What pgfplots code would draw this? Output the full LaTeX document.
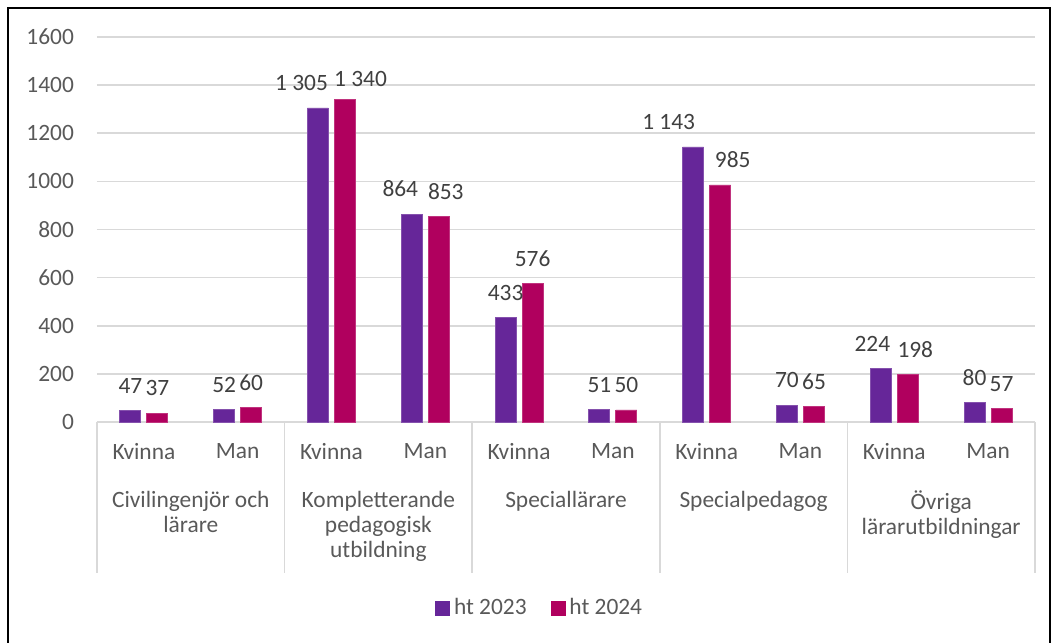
\documentclass[border=0pt]{standalone}
\usepackage{fontspec}
\setmainfont{Carlito}
\usepackage{pgfplots}
\pgfplotsset{compat=1.18}
\definecolor{ht23}{RGB}{102,38,153}
\definecolor{ht24}{RGB}{176,0,94}
\definecolor{txt}{RGB}{89,89,89}
\definecolor{labc}{RGB}{64,64,64}
\definecolor{gridc}{RGB}{217,217,217}
\newcommand\cf{\fontsize{11.7}{12.6}\selectfont}

\begin{document}
\begin{tikzpicture}
\useasboundingbox (0pt,0pt) rectangle (528pt,321.5pt);
\draw[black, line width=0.8pt] (4pt,-2pt) -- (4pt,317.5pt) -- (525pt,317.5pt) -- (525pt,-2pt);
\begin{axis}[at={(48.5pt,110.5pt)}, anchor=south west, scale only axis,
	width=469pt, height=192.5pt,
	ybar=3pt, bar width=10.5pt,
	xmin=-0.5, xmax=9.5, ymin=0, ymax=1600,
	ytick={0,200,...,1600}, xtick={0,...,9},
	xticklabels={Kvinna,Man,Kvinna,Man,Kvinna,Man,Kvinna,Man,Kvinna,Man},
	/pgf/number format/.cd, 1000 sep={}, assume math mode=true, /pgfplots/.cd,
	ymajorgrids, grid style={gridc, line width=0.8pt},
	axis line style={draw=none}, tick style={draw=none},
	tick label style={font=\cf, text=txt},
	yticklabel style={xshift=-8pt},
	xticklabel style={yshift=-3pt},
	clip=false,
	visualization depends on={\thisrow{dx} \as \dx},
	visualization depends on={\thisrow{dy} \as \dy},
	nodes near coords={\pgfmathprintnumber[1000 sep={\ }, assume math mode=true]{\pgfplotspointmeta}},
	every node near coord/.append style={font=\cf, text=labc, anchor=south, yshift=5pt,
		xshift=\dx pt, yshift=\dy pt},
	legend columns=2,
	legend style={draw=none, fill=none, at={(0.473,-0.483)}, anchor=center, font=\cf, text=txt,
		/tikz/every even column/.append style={column sep=10pt}},
]
% ht 2023
\addplot[fill=ht23, draw=ht23!80!white, line width=0.4pt,
	legend image code/.code={\fill[ht23] (0pt,-3.5pt) rectangle (7pt,3.5pt);}]
	table[x=x, y=y] {
	x y    dx     dy
	0 47   0      0
	1 52   0      0
	2 1305 -8.25  0
	3 864  -5.75  0
	4 433  0      0
	5 51   0      0
	6 1143 -12.25 0
	7 70   0      0
	8 224  -4.2   0
	9 80   0      0
	};
% ht 2024
\addplot[fill=ht24, draw=ht24!80!white, line width=0.4pt,
	legend image code/.code={\fill[ht24] (0pt,-3.5pt) rectangle (7pt,3.5pt);}]
	table[x=x, y=y] {
	x y    dx    dy
	0 37   0     0
	1 60   0     0
	2 1340 7.75  -2.25
	3 853  3.5   0
	4 576  0     0
	5 50   0     0
	6 985  6.25  0
	7 65   0     0
	8 198  3.75  0
	9 57   0     0
	};
\legend{ht 2023, ht 2024}
% gruppavgransare
\draw[gridc, line width=0.8pt] (axis cs:-0.5,0) -- ++(0pt,-75.5pt);
\draw[gridc, line width=0.8pt] (axis cs:1.5,0) -- ++(0pt,-75.5pt);
\draw[gridc, line width=0.8pt] (axis cs:3.5,0) -- ++(0pt,-75.5pt);
\draw[gridc, line width=0.8pt] (axis cs:5.5,0) -- ++(0pt,-75.5pt);
\draw[gridc, line width=0.8pt] (axis cs:7.5,0) -- ++(0pt,-75.5pt);
\draw[gridc, line width=0.8pt] (axis cs:9.5,0) -- ++(0pt,-75.5pt);
% gruppnamn
\node[anchor=north, font=\cf, text=txt, align=center, inner sep=0pt, yshift=-34.3pt] at (axis cs:0.5,0) {Civilingenjör och\\lärare};
\node[anchor=north, font=\cf, text=txt, align=center, inner sep=0pt, yshift=-34.3pt] at (axis cs:2.5,0) {Kompletterande\\pedagogisk\\utbildning};
\node[anchor=north, font=\cf, text=txt, align=center, inner sep=0pt, yshift=-34.3pt] at (axis cs:4.5,0) {Speciallärare};
\node[anchor=north, font=\cf, text=txt, align=center, inner sep=0pt, yshift=-34.3pt] at (axis cs:6.5,0) {Specialpedagog};
\node[anchor=north, font=\cf, text=txt, align=center, inner sep=0pt, yshift=-34.3pt] at (axis cs:8.5,0) {Övriga\\lärarutbildningar};
\end{axis}
\end{tikzpicture}
\end{document}
